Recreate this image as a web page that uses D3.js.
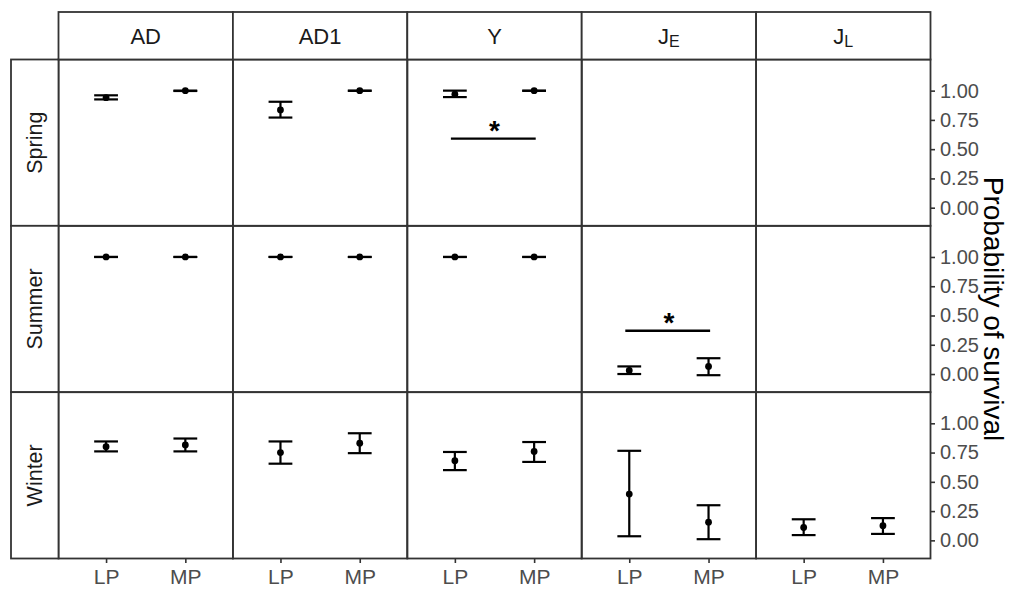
<!DOCTYPE html>
<html>
<head>
<meta charset="utf-8">
<script src="https://cdn.jsdelivr.net/npm/d3@7"></script>
<style>
  html, body { margin: 0; padding: 0; background: #fff; }
  svg { display: block; font-family: "Liberation Sans", Arial, sans-serif; }
</style>
</head>
<body>
<svg id="chart" width="1010" height="589"></svg>
<script>
// Facet levels
const stages = ["AD", "AD1", "Y", "J_E", "J_L"];
const seasons = ["Spring", "Summer", "Winter"];
const groups = ["LP", "MP"];
const yTicks = [0, 0.25, 0.5, 0.75, 1];

// Survival estimates per season: [stage, group, estimate, lower, upper]
const springRows = [
  ["AD",  "LP", 0.94,  0.925, 0.96],
  ["AD",  "MP", 1.00,  0.997, 1.00],
  ["AD1", "LP", 0.835, 0.77,  0.905],
  ["AD1", "MP", 1.00,  0.998, 1.00],
  ["Y",   "LP", 0.97,  0.945, 1.00],
  ["Y",   "MP", 1.00,  0.998, 1.00]
];
const summerRows = [
  ["AD",  "LP", 1.00,  1.00,  1.00],
  ["AD",  "MP", 1.00,  1.00,  1.00],
  ["AD1", "LP", 1.00,  1.00,  1.00],
  ["AD1", "MP", 1.00,  1.00,  1.00],
  ["Y",   "LP", 1.00,  1.00,  1.00],
  ["Y",   "MP", 1.00,  1.00,  1.00],
  ["J_E", "LP", 0.03,  0.00,  0.065],
  ["J_E", "MP", 0.065, -0.01, 0.135]
];
const winterRows = [
  ["AD",  "LP", 0.80,  0.76,  0.845],
  ["AD",  "MP", 0.815, 0.76,  0.87],
  ["AD1", "LP", 0.75,  0.655, 0.845],
  ["AD1", "MP", 0.83,  0.745, 0.915],
  ["Y",   "LP", 0.68,  0.60,  0.755],
  ["Y",   "MP", 0.76,  0.67,  0.84],
  ["J_E", "LP", 0.395, 0.035, 0.765],
  ["J_E", "MP", 0.155, 0.01,  0.30],
  ["J_L", "LP", 0.11,  0.045, 0.18],
  ["J_L", "MP", 0.125, 0.055, 0.19]
];

// Significance brackets: [season, stage, height]
const sigMarks = [
  ["Spring", "Y",   0.59],
  ["Summer", "J_E", 0.37]
];

const rowsBySeason = { Spring: springRows, Summer: summerRows, Winter: winterRows };

// Geometry
const plotL = 58.5, plotR = 930.5, plotT = 59.5, plotB = 558.5;
const stripTop = 12, stripLeft = 11;
const border = "#333333";

const svg = d3.select("#chart");

const colScale = d3.scaleBand().domain(stages).range([plotL, plotR]).padding(0);
const rowScale = d3.scaleBand().domain(seasons).range([plotT, plotB]).padding(0);
const pw = colScale.bandwidth(), ph = rowScale.bandwidth();

// Discrete x positions (1, 2) with 0.6 expansion on each side
const x = d3.scaleLinear().domain([0.4, 2.6]).range([0, pw]);
const xPos = g => x(groups.indexOf(g) + 1);
const y = d3.scaleLinear().domain([-0.155, 1.266]).range([ph, 0]);

// Panels
seasons.forEach(season => {
  stages.forEach(stage => {
    const g = svg.append("g")
      .attr("transform", `translate(${colScale(stage)},${rowScale(season)})`);

    const rows = rowsBySeason[season].filter(r => r[0] === stage);
    const bars = g.selectAll("g.bar").data(rows).join("g").attr("class", "bar");
    const half = x(1.15) - x(1);
    bars.append("line")
      .attr("x1", d => xPos(d[1])).attr("x2", d => xPos(d[1]))
      .attr("y1", d => y(d[3])).attr("y2", d => y(d[4]))
      .attr("stroke", "#000").attr("stroke-width", 2.2);
    bars.append("line")
      .attr("x1", d => xPos(d[1]) - half).attr("x2", d => xPos(d[1]) + half)
      .attr("y1", d => y(d[3])).attr("y2", d => y(d[3]))
      .attr("stroke", "#000").attr("stroke-width", 2.2);
    bars.append("line")
      .attr("x1", d => xPos(d[1]) - half).attr("x2", d => xPos(d[1]) + half)
      .attr("y1", d => y(d[4])).attr("y2", d => y(d[4]))
      .attr("stroke", "#000").attr("stroke-width", 2.2);
    bars.append("circle")
      .attr("cx", d => xPos(d[1])).attr("cy", d => y(d[2]))
      .attr("r", 3.4).attr("fill", "#000");

    sigMarks.filter(s => s[0] === season && s[1] === stage).forEach(s => {
      g.append("line")
        .attr("x1", x(0.95)).attr("x2", x(2.02))
        .attr("y1", y(s[2])).attr("y2", y(s[2]))
        .attr("stroke", "#000").attr("stroke-width", 2.4);
      g.append("text")
        .attr("x", x(1.5)).attr("y", y(s[2]) + 1)
        .attr("text-anchor", "middle")
        .attr("font-size", 28).attr("font-weight", "bold")
        .attr("fill", "#000")
        .text("*");
    });

    g.append("rect")
      .attr("width", pw).attr("height", ph)
      .attr("fill", "none").attr("stroke", border).attr("stroke-width", 1.8);
  });

  // Right axis for each row
  const ax = svg.append("g")
    .attr("transform", `translate(${plotR},${rowScale(season)})`)
    .call(d3.axisRight(y).tickValues(yTicks).tickFormat(d3.format(".2f")).tickSize(4.5).tickPadding(5));
  ax.select(".domain").remove();
  ax.selectAll(".tick line").attr("stroke", border).attr("stroke-width", 1.6);
  ax.selectAll(".tick text").attr("fill", "#4d4d4d").attr("font-size", 20)
    .attr("font-family", "Liberation Sans, Arial, sans-serif");

  // Left strip
  const sy = rowScale(season);
  svg.append("rect")
    .attr("x", stripLeft).attr("y", sy).attr("width", plotL - stripLeft).attr("height", ph)
    .attr("fill", "#fff").attr("stroke", border).attr("stroke-width", 1.8);
  svg.append("text")
    .attr("transform", `translate(${(stripLeft + plotL) / 2},${sy + ph / 2}) rotate(-90)`)
    .attr("text-anchor", "middle").attr("dominant-baseline", "central")
    .attr("font-size", 21.5).attr("fill", "#1a1a1a")
    .text(season);
});

// Top strips
stages.forEach(stage => {
  const sx = colScale(stage);
  svg.append("rect")
    .attr("x", sx).attr("y", stripTop).attr("width", pw).attr("height", plotT - stripTop)
    .attr("fill", "#fff").attr("stroke", border).attr("stroke-width", 1.8);
  const parts = stage.split("_");
  const t = svg.append("text")
    .attr("x", sx + pw / 2).attr("y", (stripTop + plotT) / 2)
    .attr("text-anchor", "middle").attr("dominant-baseline", "central")
    .attr("font-size", 22).attr("fill", "#1a1a1a");
  t.append("tspan").text(parts[0]);
  if (parts[1]) {
    t.append("tspan").attr("font-size", 16).attr("dy", 5).text(parts[1]);
  }
});

// Bottom x axis for each column
stages.forEach(stage => {
  const ax = svg.append("g")
    .attr("transform", `translate(${colScale(stage)},${plotB})`)
    .call(d3.axisBottom(x).tickValues([1, 2]).tickFormat(d => groups[d - 1]).tickSize(4.5).tickPadding(6));
  ax.select(".domain").remove();
  ax.selectAll(".tick line").attr("stroke", border).attr("stroke-width", 1.6);
  ax.selectAll(".tick text").attr("fill", "#4d4d4d").attr("font-size", 21)
    .attr("font-family", "Liberation Sans, Arial, sans-serif");
});

// Y axis title on the right
svg.append("text")
  .attr("transform", `translate(984,${(plotT + plotB) / 2}) rotate(90)`)
  .attr("text-anchor", "middle")
  .attr("font-size", 28).attr("fill", "#000")
  .text("Probability of survival");
</script>
</body>
</html>
